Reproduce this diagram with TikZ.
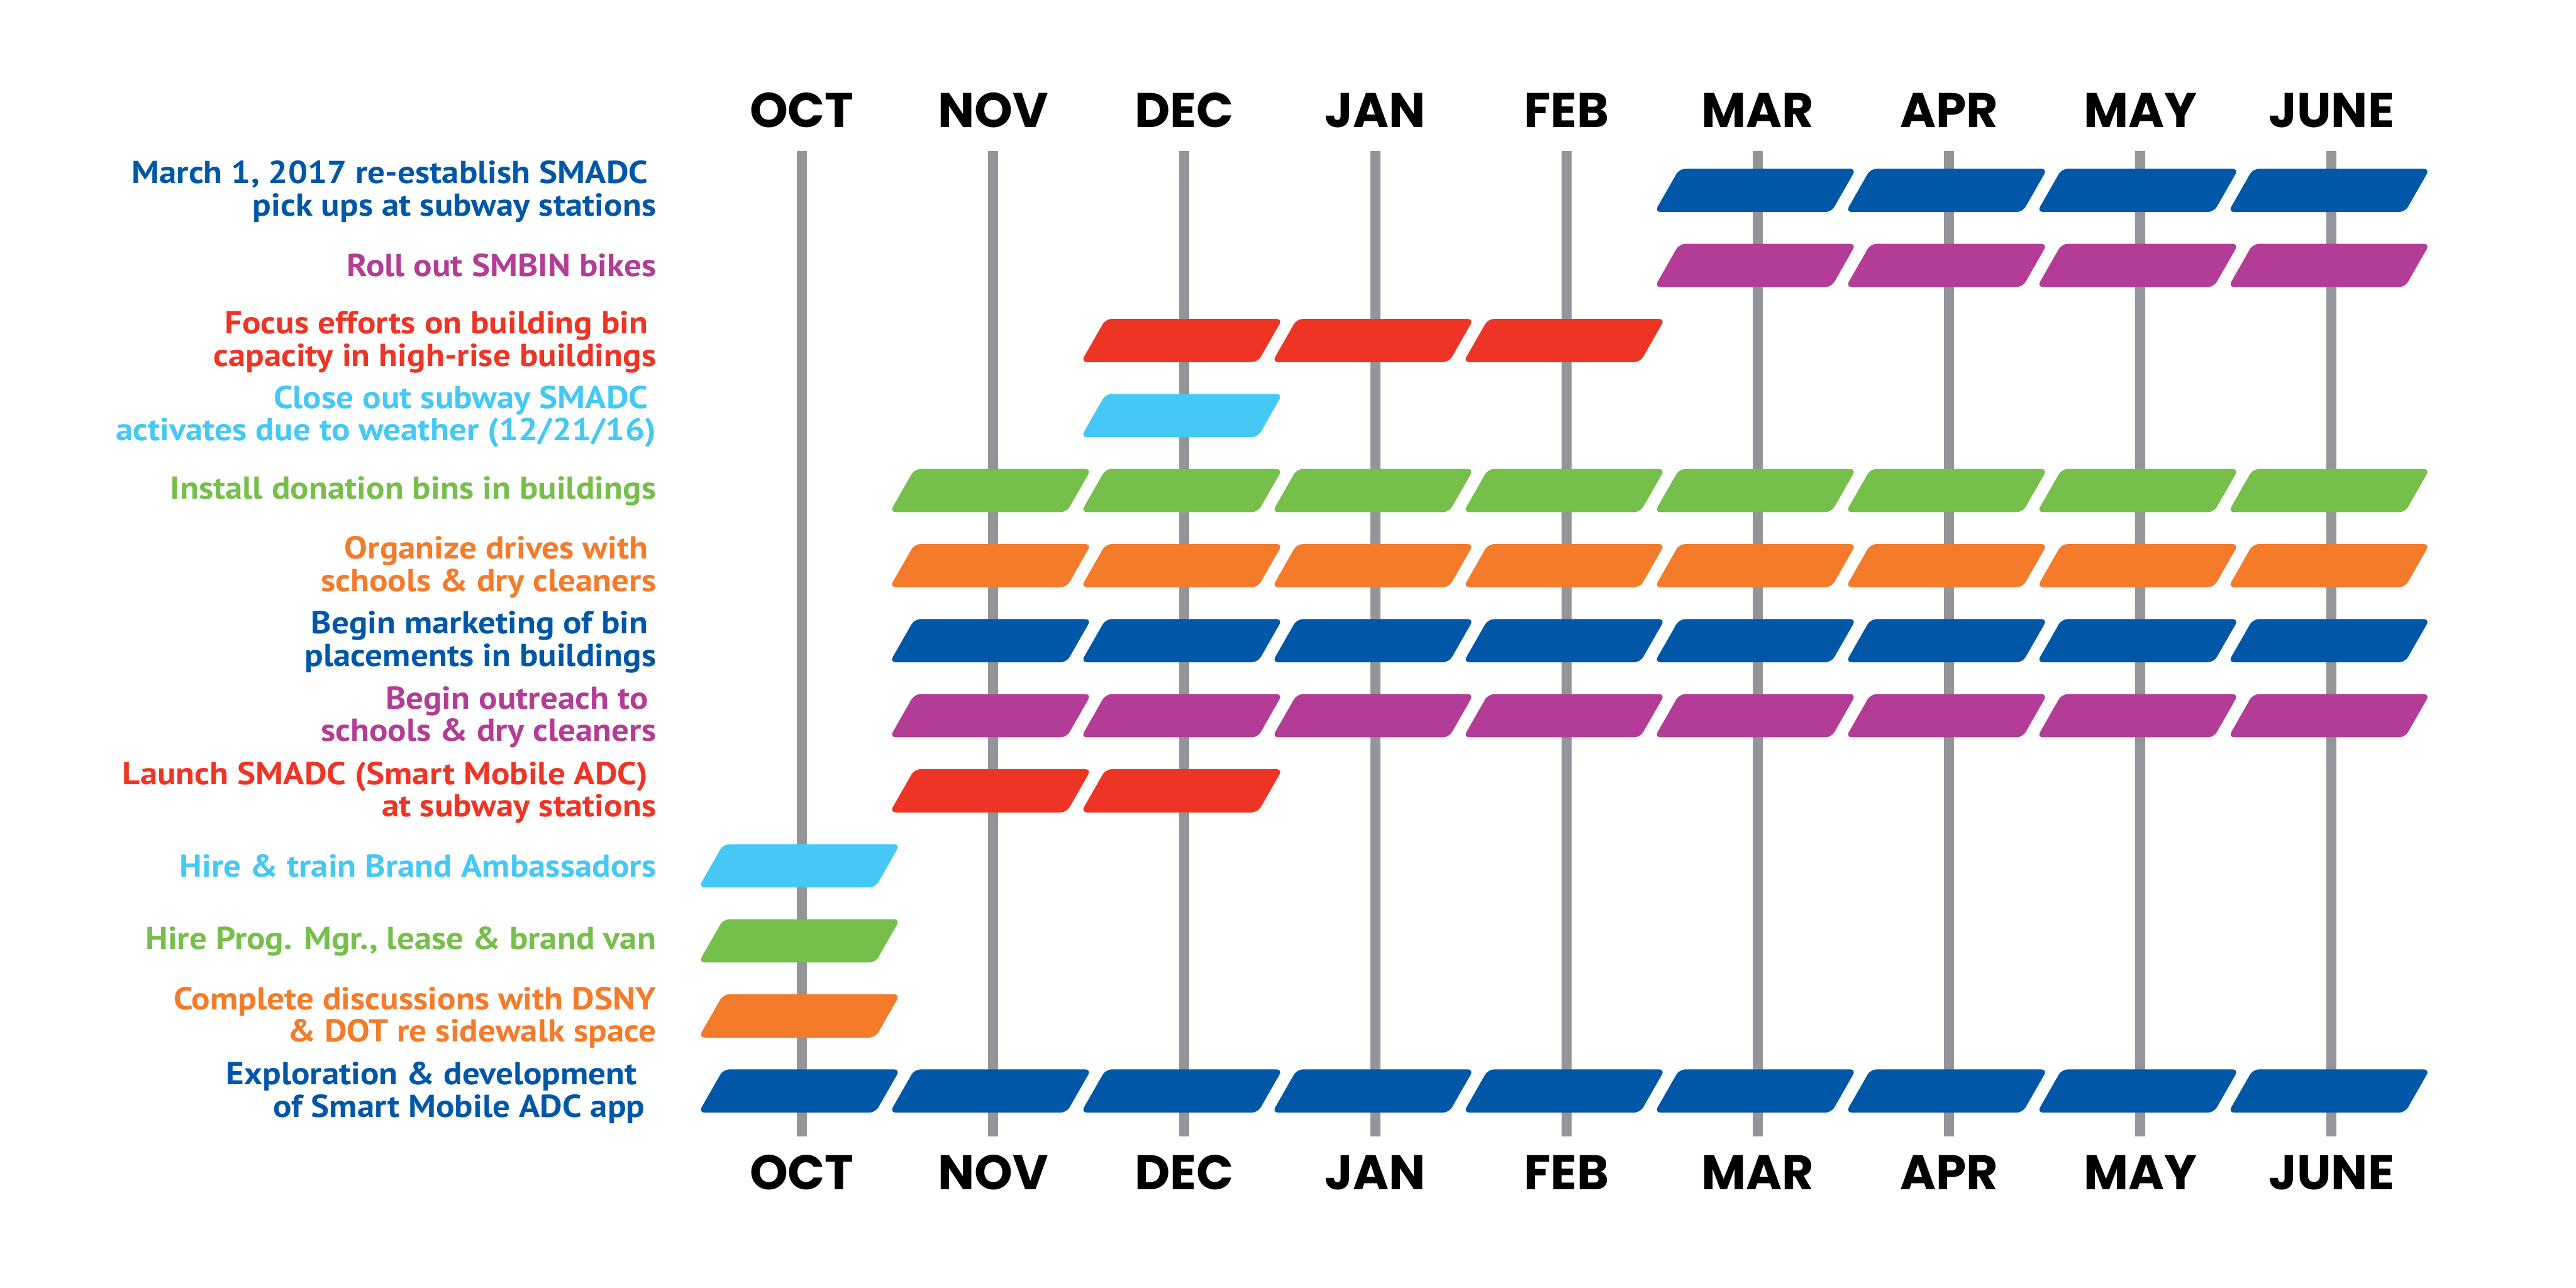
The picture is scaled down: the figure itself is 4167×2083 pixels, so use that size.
\documentclass[tikz,border=0pt]{standalone}
\usepackage{fontspec}
\setmainfont{PT Sans}[FakeStretch=1.09]
\newfontfamily\monthfont{Poppins}
\usepackage{xcolor}
\definecolor{planblue}{RGB}{0,87,168}
\definecolor{planpurple}{RGB}{179,61,150}
\definecolor{planred}{RGB}{238,52,36}
\definecolor{plansky}{RGB}{69,200,244}
\definecolor{plangreen}{RGB}{118,191,75}
\definecolor{planorange}{RGB}{244,123,42}
\definecolor{gridgray}{RGB}{147,149,152}
\usetikzlibrary{positioning}
\tikzset{
  month/.style={font=\monthfont\bfseries\fontsize{22.4}{24}\selectfont,anchor=base,inner sep=0pt},
  task/.style={font=\bfseries\fontsize{14.6}{15}\selectfont,anchor=east,align=right,inner sep=0pt},
  gridline/.style={line width=4.55pt,draw=gridgray},
  slot/.style={rounded corners=2.8pt},
}
\newcommand{\tsp}{\hspace*{0.25em}}
% one bar: colour, month (0 = OCT), row (1 = top)
\newcommand{\taskbar}[3]{%
  \fill[#1,slot] (#2*309.3+1130,#3*121.4+221.6) -- ++(40,-70) -- ++(286,0) -- ++(-40,70) -- cycle;}

\begin{document}
\begin{tikzpicture}[x=0.01cm,y=-0.01cm]
\useasboundingbox (0,0) rectangle (4167,2083);
% months and grid
\foreach \m [count=\i from 0] in {OCT,NOV,DEC,JAN,FEB,MAR,APR,MAY,JUNE}{
  \node[month] (mt\i) at (\i*309.3+1297,206) {\m};
  \node[month] (mb\i) at (\i*309.3+1297,1924) {\m};
  \coordinate (gt\i) at (\i*309.3+1297,244);
  \coordinate (gb\i) at (\i*309.3+1297,1838);
  \draw[gridline] (gt\i) -- (gb\i);
}
% task labels
\node[task,text=planblue] (t1) at (1062,310) {March 1, 2017 re-establish SMADC\tsp\\pick ups at subway stations};
\node[task,text=planpurple] (t2) at (1062,429) {Roll out SMBIN bikes};
\node[task,text=planred] (t3) at (1062,553) {Focus efforts on building bin\tsp\\capacity in high-rise buildings};
\node[task,text=plansky] (t4) at (1062,674) {Close out subway SMADC\tsp\\activates due to weather (12/21/16)};
\node[task,text=plangreen] (t5) at (1062,794) {Install donation bins in buildings};
\node[task,text=planorange] (t6) at (1062,917) {Organize drives with\tsp\\schools \& dry cleaners};
\node[task,text=planblue] (t7) at (1062,1039) {Begin marketing of bin\tsp\\placements in buildings};
\node[task,text=planpurple] (t8) at (1062,1160) {Begin outreach to\tsp\\schools \& dry cleaners};
\node[task,text=planred] (t9) at (1062,1282) {Launch SMADC (Smart Mobile ADC)\tsp\\at subway stations};
\node[task,text=plansky] (t10) at (1062,1401) {Hire \& train Brand Ambassadors};
\node[task,text=plangreen] (t11) at (1062,1523) {Hire Prog. Mgr., lease \& brand van};
\node[task,text=planorange] (t12) at (1062,1646) {Complete discussions with DSNY\\\& DOT re sidewalk space};
\node[task,text=planblue] (t13) at (1044,1768) {Exploration \& development\tsp\\of Smart Mobile ADC app};
% bars
\foreach \m in {5,...,8}{\taskbar{planblue}{\m}{1} \taskbar{planpurple}{\m}{2}}
\foreach \m in {2,3,4}{\taskbar{planred}{\m}{3}}
\taskbar{plansky}{2}{4}
\foreach \m in {1,...,8}{
  \taskbar{plangreen}{\m}{5} \taskbar{planorange}{\m}{6}
  \taskbar{planblue}{\m}{7} \taskbar{planpurple}{\m}{8}}
\foreach \m in {1,2}{\taskbar{planred}{\m}{9}}
\taskbar{plansky}{0}{10}
\taskbar{plangreen}{0}{11}
\taskbar{planorange}{0}{12}
\foreach \m in {0,...,8}{\taskbar{planblue}{\m}{13}}
\end{tikzpicture}
\end{document}
